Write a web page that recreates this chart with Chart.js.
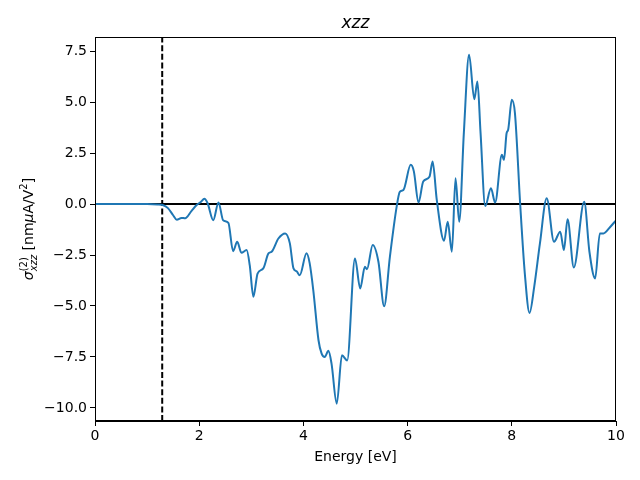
<!DOCTYPE html>
<html>
<head>
  <title>xzz</title>
  <script src="https://cdn.jsdelivr.net/npm/chart.js"></script>
  <style>
    body { margin: 0; background: #fff; }
  </style>
</head>
<body>
<canvas id="chart" width="640" height="480"></canvas>

<script>
// energy (eV) and sigma values
const energy = [0.0, 0.5, 1.0, 1.2, 1.3, 1.4, 1.5, 1.57, 1.66, 1.73, 1.85, 1.95, 2.03, 2.10, 2.16,
  2.27, 2.37, 2.46, 2.56, 2.65, 2.73, 2.81, 2.91, 2.97, 3.04, 3.12, 3.23, 3.33, 3.39, 3.52,
  3.65, 3.74, 3.81, 3.87, 3.93, 4.06, 4.12, 4.19, 4.29, 4.35, 4.41, 4.48, 4.54, 4.64, 4.74,
  4.84, 4.99, 5.09, 5.18, 5.22, 5.33, 5.44, 5.55, 5.66, 5.79, 5.85, 5.92, 6.06, 6.12, 6.21,
  6.30, 6.42, 6.48, 6.56, 6.70, 6.77, 6.85, 6.92, 6.99, 7.08, 7.18, 7.28, 7.34, 7.40, 7.49,
  7.60, 7.68, 7.81, 7.85, 7.90, 7.93, 8.00, 8.06, 8.16, 8.25, 8.34, 8.43, 8.54, 8.67, 8.81,
  8.93, 9.00, 9.07, 9.19, 9.39, 9.49, 9.60, 9.69, 9.76, 9.88, 10.0];
const sigma = [0, 0, 0, -0.02, -0.05, -0.2, -0.55, -0.77, -0.68, -0.70, -0.35, -0.05, 0.1, 0.26, 0.05,
  -0.79, 0.08, -0.80, -0.92, -2.31, -1.85, -2.39, -2.26, -3.0, -4.55, -3.41, -3.16, -2.42, -2.34, -1.69,
  -1.44, -1.93, -3.16, -3.3, -3.49, -2.42, -2.9, -4.23, -6.68, -7.34, -7.5, -7.2, -7.83, -9.79, -7.42,
  -7.67, -2.67, -4.14, -3.08, -3.2, -2.01, -2.83, -5.01, -2.59, -0.13, 0.60, 0.69, 1.92, 1.6, 0.07,
  1.10, 1.34, 2.08, 0.20, -1.80, -0.87, -2.34, 1.26, -0.87, 3.5, 7.32, 5.14, 6.01, 3.5, -0.10,
  0.77, 0.07, 2.41, 2.16, 3.47, 3.64, 5.11, 4.46, 0.03, -3.41, -5.34, -4.06, -1.93, 0.28, -1.85,
  -1.36, -2.26, -0.75, -3.11, 0.11, -2.34, -3.65, -1.44, -1.44, -1.15, -0.8];

const gapEnergy = 1.29;
const xTicks = [0, 2, 4, 6, 8, 10];
const yTicks = [-10.0, -7.5, -5.0, -2.5, 0.0, 2.5, 5.0, 7.5];
const xRange = [0, 10];
const yRange = [-10.64, 8.19];

const FONT = 'DejaVu Sans';

const points = energy.map((e, i) => ({ x: e, y: sigma[i] }));

function fmt(v, digits) {
  return v.toFixed(digits).replace('-', '\u2212');
}

// title, axis labels and the box border
const decorations = {
  id: 'decorations',
  afterDraw(chart) {
    const ctx = chart.ctx;
    const a = chart.chartArea;
    ctx.save();
    ctx.strokeStyle = '#000';
    ctx.lineWidth = 1;
    ctx.strokeRect(a.left + 0.5, a.top + 0.5, a.right - a.left - 1, a.bottom - a.top - 1);

    ctx.fillStyle = '#000';
    ctx.textAlign = 'center';
    ctx.textBaseline = 'alphabetic';
    ctx.font = 'italic 17px ' + FONT;
    ctx.fillText('xzz', (a.left + a.right) / 2, 28);

    ctx.font = '14px ' + FONT;
    ctx.textBaseline = 'middle';
    ctx.fillText('Energy [eV]', (a.left + a.right) / 2, 457);

    // rotated y label with super/subscripts
    ctx.translate(28, (a.top + a.bottom) / 2);
    ctx.rotate(-Math.PI / 2);
    ctx.textAlign = 'left';
    ctx.textBaseline = 'alphabetic';
    const big = '14px ' + FONT, bigI = 'italic 14px ' + FONT;
    const small = '10px ' + FONT, smallI = 'italic 10px ' + FONT;
    const parts = [
      [{ t: '\u03c3', f: bigI, dy: 0 }],
      [{ t: '(2)', f: small, dy: -6 }, { t: 'xzz', f: smallI, dy: 4 }],
      [{ t: ' [nm', f: big, dy: 0 }],
      [{ t: '\u03bc', f: bigI, dy: 0 }],
      [{ t: 'A/V', f: big, dy: 0 }],
      [{ t: '2', f: small, dy: -6 }],
      [{ t: ']', f: big, dy: 0 }]
    ];
    const widths = parts.map(group => Math.max(...group.map(p => { ctx.font = p.f; return ctx.measureText(p.t).width; })));
    const total = widths.reduce((s, w) => s + w, 0);
    let x = -total / 2;
    parts.forEach((group, i) => {
      group.forEach(p => {
        ctx.font = p.f;
        ctx.fillText(p.t, x, 5 + p.dy);
      });
      x += widths[i];
    });
    ctx.restore();
  }
};

new Chart(document.getElementById('chart'), {
  type: 'line',
  data: {
    datasets: [
      {
        data: points,
        borderColor: '#1f77b4',
        borderWidth: 2,
        pointRadius: 0,
        cubicInterpolationMode: 'monotone',
        order: 0
      },
      {
        data: [{ x: xRange[0], y: 0 }, { x: xRange[1], y: 0 }],
        borderColor: '#000',
        borderWidth: 2,
        pointRadius: 0,
        order: 1
      },
      {
        data: [{ x: gapEnergy, y: yRange[0] }, { x: gapEnergy, y: yRange[1] }],
        borderColor: '#000',
        borderWidth: 2,
        borderDash: [6, 2.6],
        pointRadius: 0,
        order: 2
      }
    ]
  },
  options: {
    responsive: false,
    animation: false,
    layout: { padding: { top: 37, right: 24, left: 0, bottom: 0 } },
    plugins: {
      legend: { display: false },
      tooltip: { enabled: false },
      title: { display: false }
    },
    scales: {
      x: {
        type: 'linear',
        min: xRange[0],
        max: xRange[1],
        afterBuildTicks: s => { s.ticks = xTicks.map(v => ({ value: v })); },
        afterFit: s => { s.height = 59; },
        ticks: {
          color: '#000',
          font: { family: FONT, size: 14 },
          padding: 2,
          maxRotation: 0,
          callback: v => fmt(v, 0)
        },
        grid: { drawOnChartArea: false, tickLength: 5, color: '#000' },
        border: { color: '#000', width: 1 }
      },
      y: {
        type: 'linear',
        min: yRange[0],
        max: yRange[1],
        afterBuildTicks: s => { s.ticks = yTicks.map(v => ({ value: v })); },
        afterFit: s => { s.width = 95; },
        ticks: {
          color: '#000',
          font: { family: FONT, size: 14 },
          padding: 3,
          callback: v => fmt(v, 1)
        },
        grid: { drawOnChartArea: false, tickLength: 5, color: '#000' },
        border: { color: '#000', width: 1 }
      }
    }
  },
  plugins: [decorations]
});
</script>
</body>
</html>
